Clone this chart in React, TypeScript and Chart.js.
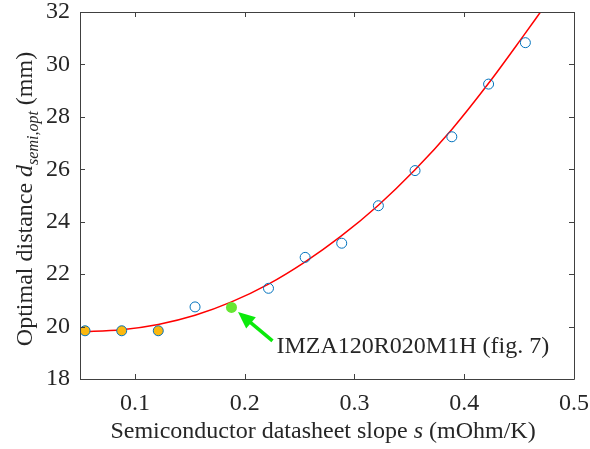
import React, { useEffect, useRef } from "react";
import { Chart, registerables } from "chart.js";

Chart.register(...registerables);

// Measured points
const slopeValues = [0.0546, 0.088, 0.1213, 0.1548, 0.188, 0.2217, 0.2551, 0.2884, 0.3218, 0.3552, 0.3887, 0.4222, 0.4557];
const distanceValues = [19.84, 19.84, 19.84, 20.75, 20.73, 21.46, 22.64, 23.18, 24.61, 25.95, 27.24, 29.25, 30.83];
const orangeIndices = [0, 1, 2];
const greenIndex = 4;

// Fitted curve
const fitSlope = [0.05, 0.088, 0.1213, 0.1548, 0.188, 0.2217, 0.2551, 0.2869, 0.3218, 0.3552, 0.3887, 0.422, 0.4539, 0.47];
const fitDistance = [19.8, 19.88, 20.08, 20.43, 20.94, 21.62, 22.47, 23.42, 24.63, 25.98, 27.52, 29.27, 31.09, 32.03];

const xTickValues = [0.1, 0.2, 0.3, 0.4, 0.5];
const xTickLabels = ["0.1", "0.2", "0.3", "0.4", "0.5"];
const yTickValues = [18, 20, 22, 24, 26, 28, 30, 32];
const yTickLabels = ["18", "20", "22", "24", "26", "28", "30", "32"];

const annotationText = "IMZA120R020M1H (fig. 7)";

const FONT = "'Liberation Serif', 'Times New Roman', serif";
const TEXT_COLOR = "#262626";
const AXIS_COLOR = "#404040";

const framePlugin = {
  id: "framePlugin",
  afterDraw(chart: any) {
    const { ctx, chartArea, scales } = chart;
    const { left, right, top, bottom } = chartArea;
    const xs = scales.x;
    const ys = scales.y;
    ctx.save();
    ctx.strokeStyle = AXIS_COLOR;
    ctx.lineWidth = 1;
    ctx.beginPath();
    ctx.rect(Math.round(left) + 0.5, Math.round(top) + 0.5, Math.round(right - left), Math.round(bottom - top));
    ctx.stroke();
    const tl = 5;
    ctx.beginPath();
    xTickValues.forEach((v) => {
      const px = Math.round(xs.getPixelForValue(v)) + 0.5;
      ctx.moveTo(px, bottom);
      ctx.lineTo(px, bottom - tl);
      ctx.moveTo(px, top);
      ctx.lineTo(px, top + tl);
    });
    yTickValues.forEach((v) => {
      const py = Math.round(ys.getPixelForValue(v)) + 0.5;
      ctx.moveTo(left, py);
      ctx.lineTo(left + tl, py);
      ctx.moveTo(right, py);
      ctx.lineTo(right - tl, py);
    });
    ctx.stroke();

    // X title
    ctx.fillStyle = TEXT_COLOR;
    ctx.textBaseline = "alphabetic";
    const pieces = [
      { t: "Semiconductor datasheet slope ", f: `24px ${FONT}` },
      { t: "s", f: `italic 24px ${FONT}` },
      { t: " (mOhm/K)", f: `24px ${FONT}` },
    ];
    let total = 0;
    pieces.forEach((p) => {
      ctx.font = p.f;
      total += ctx.measureText(p.t).width;
    });
    let x = (left + right) / 2 - 4 - total / 2;
    const yBase = 438;
    pieces.forEach((p) => {
      ctx.font = p.f;
      ctx.textAlign = "left";
      ctx.fillText(p.t, x, yBase);
      x += ctx.measureText(p.t).width;
    });

    // Y title (rotated)
    const yPieces = [
      { t: "Optimal distance ", f: `24px ${FONT}`, dy: 0 },
      { t: "d", f: `italic 24px ${FONT}`, dy: 0 },
      { t: "semi,opt", f: `italic 16px ${FONT}`, dy: 6 },
      { t: " (mm)", f: `24px ${FONT}`, dy: 0 },
    ];
    let yTotal = 0;
    yPieces.forEach((p) => {
      ctx.font = p.f;
      yTotal += ctx.measureText(p.t).width;
    });
    ctx.save();
    ctx.translate(32, 199);
    ctx.rotate(-Math.PI / 2);
    let cx = -yTotal / 2;
    yPieces.forEach((p) => {
      ctx.font = p.f;
      ctx.textAlign = "left";
      ctx.fillText(p.t, cx, p.dy);
      cx += ctx.measureText(p.t).width;
    });
    ctx.restore();

    // Annotation arrow and text
    const gx = xs.getPixelForValue(slopeValues[greenIndex]);
    const gy = ys.getPixelForValue(distanceValues[greenIndex]);
    const tipX = gx + 6.5;
    const tipY = gy + 4.5;
    const tailX = gx + 41;
    const tailY = gy + 33.5;
    const ang = Math.atan2(tipY - tailY, tipX - tailX);
    const headLen = 17;
    const headHalf = 7.5;
    const baseX = tipX - headLen * Math.cos(ang);
    const baseY = tipY - headLen * Math.sin(ang);
    ctx.strokeStyle = "#0BEA0B";
    ctx.fillStyle = "#0BEA0B";
    ctx.lineWidth = 3.5;
    ctx.beginPath();
    ctx.moveTo(tailX, tailY);
    ctx.lineTo(baseX + 2 * Math.cos(ang), baseY + 2 * Math.sin(ang));
    ctx.stroke();
    ctx.beginPath();
    ctx.moveTo(tipX, tipY);
    ctx.lineTo(baseX + headHalf * Math.sin(ang), baseY - headHalf * Math.cos(ang));
    ctx.lineTo(baseX - headHalf * Math.sin(ang), baseY + headHalf * Math.cos(ang));
    ctx.closePath();
    ctx.fill();

    ctx.fillStyle = TEXT_COLOR;
    ctx.font = `24px ${FONT}`;
    ctx.textAlign = "left";
    ctx.textBaseline = "alphabetic";
    ctx.fillText(annotationText, gx + 45, gy + 46);
    ctx.restore();
  },
};

export default function App() {
  const canvasRef = useRef<HTMLCanvasElement | null>(null);

  useEffect(() => {
    if (!canvasRef.current) return;
    const blueData = slopeValues
      .map((x, i) => ({ x, y: distanceValues[i], i }))
      .filter((p) => p.i !== greenIndex)
      .map((p) => ({ x: p.x, y: p.y }));
    const orangeData = orangeIndices.map((i) => ({ x: slopeValues[i], y: distanceValues[i] }));
    const greenData = [{ x: slopeValues[greenIndex], y: distanceValues[greenIndex] }];
    const fitData = fitSlope.map((x, i) => ({ x, y: fitDistance[i] }));

    const chart = new Chart(canvasRef.current, {
      type: "scatter",
      data: {
        datasets: [
          {
            data: greenData,
            pointRadius: 5.5,
            pointBackgroundColor: "#66E633",
            pointBorderColor: "#66E633",
            pointBorderWidth: 0,
            order: 1,
          } as any,
          {
            data: blueData,
            pointRadius: 5,
            pointBackgroundColor: "rgba(0,0,0,0)",
            pointBorderColor: "#0072BD",
            pointBorderWidth: 1,
            order: 2,
          } as any,
          {
            data: orangeData,
            pointRadius: 5,
            pointBackgroundColor: "#FBB80F",
            pointBorderColor: "#FBB80F",
            pointBorderWidth: 0,
            order: 3,
          } as any,
          {
            type: "line",
            data: fitData,
            showLine: true,
            borderColor: "#FF0000",
            borderWidth: 1.5,
            pointRadius: 0,
            cubicInterpolationMode: "monotone",
            fill: false,
            order: 4,
          } as any,
        ],
      },
      options: {
        responsive: false,
        animation: false,
        devicePixelRatio: 1,
        layout: { padding: { left: 0, right: 16, top: 12, bottom: 0 } },
        plugins: {
          legend: { display: false },
          tooltip: { enabled: false },
        },
        scales: {
          x: {
            type: "linear",
            min: 0.05,
            max: 0.5,
            grid: { display: false, drawTicks: false },
            border: { display: false },
            afterBuildTicks: (scale: any) => {
              scale.ticks = xTickValues.map((v) => ({ value: v }));
            },
            afterFit: (scale: any) => {
              scale.height = 70;
              scale.paddingLeft = 0;
              scale.paddingRight = 0;
            },
            ticks: {
              padding: 10,
              color: TEXT_COLOR,
              font: { family: FONT, size: 24 },
              maxRotation: 0,
              autoSkip: false,
              callback: (v: any) => {
                const idx = xTickValues.findIndex((t) => Math.abs(t - v) < 1e-9);
                return idx >= 0 ? xTickLabels[idx] : "";
              },
            },
          },
          y: {
            type: "linear",
            min: 18,
            max: 32,
            grid: { display: false, drawTicks: false },
            border: { display: false },
            afterBuildTicks: (scale: any) => {
              scale.ticks = yTickValues.map((v) => ({ value: v }));
            },
            afterFit: (scale: any) => {
              scale.width = 80;
              scale.paddingTop = 0;
              scale.paddingBottom = 0;
            },
            ticks: {
              padding: 10,
              color: TEXT_COLOR,
              font: { family: FONT, size: 24 },
              autoSkip: false,
              callback: (v: any) => {
                const idx = yTickValues.findIndex((t) => Math.abs(t - v) < 1e-9);
                return idx >= 0 ? yTickLabels[idx] : "";
              },
            },
          },
        },
      },
      plugins: [framePlugin],
    });
    return () => chart.destroy();
  }, []);

  return (
    <div style={{ position: "fixed", left: 0, top: 0, width: 590, height: 449, background: "#fff" }}>
      <canvas ref={canvasRef} width={590} height={449} style={{ display: "block" }} />
    </div>
  );
}
